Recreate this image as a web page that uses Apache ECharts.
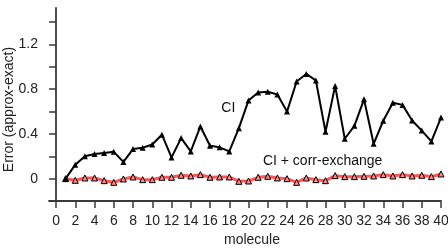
<!DOCTYPE html>
<html>
<head>
<meta charset="utf-8">
<script src="https://cdn.jsdelivr.net/npm/echarts@6/dist/echarts.min.js"></script>
<style>html,body{margin:0;padding:0;background:#fff}#c{width:448px;height:252px}</style>
</head>
<body>
<div id="c"></div>
<script>
var molecules = [1,2,3,4,5,6,7,8,9,10,11,12,13,14,15,16,17,18,19,20,21,22,23,24,25,26,27,28,29,30,31,32,33,34,35,36,37,38,39,40];
var ciValues = [0.00,0.125,0.20,0.22,0.23,0.24,0.15,0.265,0.277,0.306,0.393,0.19,0.363,0.244,0.467,0.295,0.28,0.244,0.452,0.70,
                0.77,0.777,0.753,0.60,0.869,0.937,0.878,0.42,0.83,0.357,0.473,0.71,0.312,0.518,0.68,0.66,0.52,0.43,0.333,0.547];
var ciCorrValues = [0.00,-0.015,0.006,0.006,-0.018,-0.033,-0.003,0.015,-0.009,-0.009,0.012,0.012,0.03,0.024,0.036,0.012,0.015,0.015,-0.024,-0.021,
                    0.012,0.021,0.006,0.00,-0.033,0.006,-0.009,-0.018,0.027,0.018,0.018,0.021,0.024,0.036,0.024,0.036,0.024,0.03,0.018,0.042];
var xTicks = [0,2,4,6,8,10,12,14,16,18,20,22,24,26,28,30,32,34,36,38,40];
var yTicks = [-0.2,0,0.2,0.4,0.6,0.8,1.0,1.2,1.4];
var yLabels = [0,0.4,0.8,1.2];
var seriesNames = ['CI','CI + corr-exchange'];

function pairs(xs, ys){ return xs.map(function(x,i){ return [x, ys[i]]; }); }

var font = 'Liberation Sans, Arial, sans-serif';
var axisColor = '#3a3a3a';
var chart = echarts.init(document.getElementById('c'), null, {renderer:'canvas'});
chart.setOption({
  animation: false,
  backgroundColor: '#fff',
  grid: {left: 49, right: 7, top: 8, bottom: 51, containLabel: false, outerBoundsMode: 'none'},
  xAxis: {
    type: 'value', min: -0.73, max: 40,
    name: 'molecule', nameLocation: 'middle', nameGap: 29,
    nameTextStyle: {fontFamily: font, fontSize: 14, color: '#222', padding: [0,0,0,14]},
    axisLine: {onZero: false, lineStyle: {color: axisColor, width: 1.8}},
    axisTick: {show: true, inside: false, length: 7, customValues: xTicks, lineStyle: {color: axisColor, width: 1.5}},
    axisLabel: {customValues: xTicks, margin: 13, fontFamily: font, fontSize: 14, color: '#222'},
    splitLine: {show: false}
  },
  yAxis: {
    type: 'value', min: -0.2, max: 1.527,
    name: 'Error (approx-exact)', nameLocation: 'middle', nameGap: 33, nameMoveOverlap: false,
    nameTextStyle: {fontFamily: font, fontSize: 14, color: '#222', padding: [0,10,0,0]},
    axisLine: {onZero: true, lineStyle: {color: axisColor, width: 1.8}},
    axisTick: {show: true, inside: false, length: 7, customValues: yTicks, lineStyle: {color: axisColor, width: 1.5}},
    axisLabel: {customValues: yLabels, margin: 11, fontFamily: font, fontSize: 14, color: '#222',
      formatter: function(v){ return String(Math.round(v*10)/10); }},
    splitLine: {show: false}
  },
  series: [
    {
      name: seriesNames[1], type: 'line', data: pairs(molecules, ciCorrValues),
      symbol: 'triangle', symbolSize: 6, showAllSymbol: true,
      lineStyle: {color: '#ff5555', width: 3},
      itemStyle: {color: '#ff8a8a', borderColor: '#000', borderWidth: 1},
      markPoint: {
        symbol: 'circle', symbolSize: 0,
        label: {show: true, position: 'inside', formatter: seriesNames[1], fontFamily: font, fontSize: 14, color: '#111'},
        data: [{coord: [27.7, 0.16]}]
      },
      z: 2
    },
    {
      name: seriesNames[0], type: 'line', data: pairs(molecules, ciValues),
      symbol: 'triangle', symbolSize: 6, showAllSymbol: true,
      lineStyle: {color: '#000', width: 2},
      itemStyle: {color: '#000'},
      markPoint: {
        symbol: 'circle', symbolSize: 0,
        label: {show: true, position: 'inside', formatter: seriesNames[0], fontFamily: font, fontSize: 14, color: '#111'},
        data: [{coord: [17.9, 0.634]}]
      },
      z: 3
    }
  ]
});
</script>
</body>
</html>
